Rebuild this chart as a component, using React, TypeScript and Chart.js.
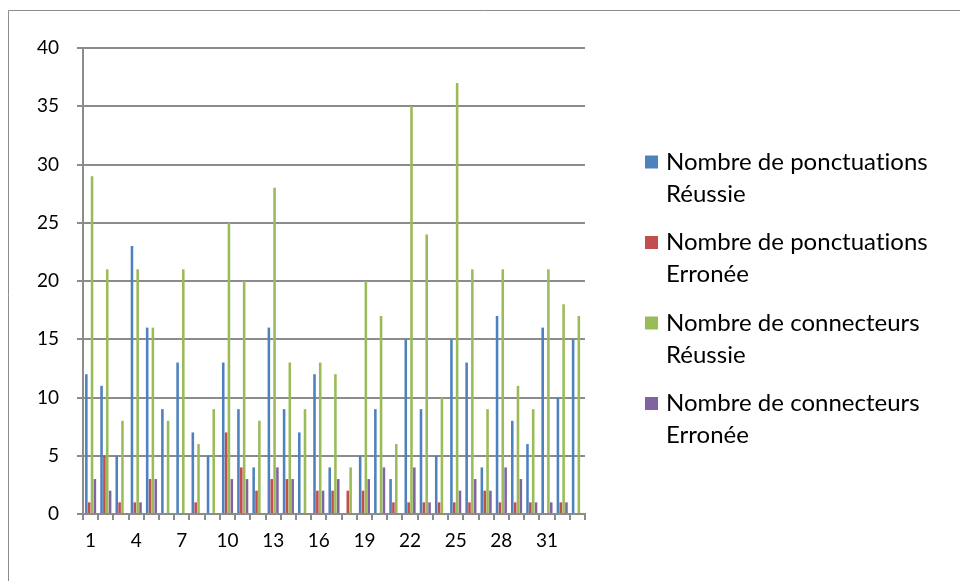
import React, { useEffect, useRef } from "react";
import { Chart, registerables } from "chart.js";

Chart.register(...registerables);

const categories = Array.from({ length: 33 }, (_, i) => String(i + 1));
const ponctReussie = [12, 11, 5, 23, 16, 9, 13, 7, 5, 13, 9, 4, 16, 9, 7, 12, 4, 0, 5, 9, 3, 15, 9, 5, 15, 13, 4, 17, 8, 6, 16, 10, 15];
const ponctErronee = [1, 5, 1, 1, 3, 0, 0, 1, 0, 7, 4, 2, 3, 3, 0, 2, 2, 2, 2, 0, 1, 1, 1, 1, 1, 1, 2, 1, 1, 1, 0, 1, 0];
const connReussie = [29, 21, 8, 21, 16, 8, 21, 6, 9, 25, 20, 8, 28, 13, 9, 13, 12, 4, 20, 17, 6, 35, 24, 10, 37, 21, 9, 21, 11, 9, 21, 18, 17];
const connErronee = [3, 2, 0, 1, 3, 0, 0, 0, 0, 3, 3, 0, 4, 3, 0, 2, 3, 0, 3, 4, 0, 4, 1, 0, 2, 3, 2, 4, 3, 1, 1, 1, 0];
const seriesLabels = [
  ["Nombre de ponctuations", "Réussie"],
  ["Nombre de ponctuations", "Erronée"],
  ["Nombre de connecteurs", "Réussie"],
  ["Nombre de connecteurs", "Erronée"],
];
const seriesColors = ["#4F81BD", "#C0504D", "#9BBB59", "#8064A2"];

const FONT = "Lato, 'Open Sans', sans-serif";

const framePlugin = {
  id: "frame",
  beforeDraw(chart: any) {
    const ctx = chart.ctx;
    ctx.save();
    ctx.fillStyle = "#ffffff";
    ctx.fillRect(0, 0, chart.width, chart.height);
    ctx.strokeStyle = "#8c8c8c";
    ctx.lineWidth = 1;
    ctx.beginPath();
    ctx.moveTo(8.5, chart.height);
    ctx.lineTo(8.5, 10.5);
    ctx.lineTo(chart.width, 10.5);
    ctx.stroke();
    ctx.restore();
  },
};

const legendPlugin = {
  id: "customLegend",
  afterDraw(chart: any) {
    const ctx = chart.ctx;
    ctx.save();
    const fontSize = 24;
    ctx.font = `${fontSize}px ${FONT}`;
    try {
      (ctx as any).letterSpacing = "0.01px";
    } catch (e) {}
    ctx.textBaseline = "middle";
    ctx.textAlign = "left";
    const x0 = 645;
    const y0 = 162;
    const itemGap = 80.5;
    const lineGap = 32;
    chart.data.datasets.forEach((ds: any, i: number) => {
      const y = y0 + i * itemGap;
      ctx.fillStyle = ds.backgroundColor;
      ctx.fillRect(x0, y - 6.5, 13, 13);
      ctx.fillStyle = "#000000";
      const lines = seriesLabels[i];
      lines.forEach((t, j) => ctx.fillText(t, x0 + 21, y + j * lineGap));
    });
    ctx.restore();
  },
};

export default function App() {
  const ref = useRef<HTMLCanvasElement>(null);
  useEffect(() => {
    if (!ref.current) return;
    const datasets = [ponctReussie, ponctErronee, connReussie, connErronee].map((d, i) => ({
      label: seriesLabels[i].join(" "),
      data: d,
      backgroundColor: seriesColors[i],
      borderWidth: 0,
      barPercentage: 0.9,
      categoryPercentage: 0.75,
    }));
    const chart = new Chart(ref.current, {
      type: "bar",
      data: { labels: categories, datasets },
      plugins: [framePlugin, legendPlugin],
      options: {
        responsive: false,
        animation: false,
        layout: { padding: { top: 48, right: 375, left: 0, bottom: 0 } },
        plugins: { legend: { display: false }, tooltip: { enabled: false } },
        scales: {
          x: {
            afterFit(scale: any) {
              scale.height = 67;
            },
            grid: { drawOnChartArea: false, drawTicks: true, tickLength: 6, color: "#8c8c8c", lineWidth: 2, offset: true },
            border: { color: "#8c8c8c", width: 2 },
            ticks: {
              autoSkip: false,
              maxRotation: 0,
              padding: 9,
              color: "#000000",
              font: { family: FONT, size: 19 },
              callback: (_v: any, i: number) => (i % 3 === 0 ? categories[i] : ""),
            },
          },
          y: {
            min: 0,
            max: 40,
            afterFit(scale: any) {
              scale.width = 83;
            },
            grid: { color: "#8c8c8c", lineWidth: 2, tickLength: 6 },
            border: { color: "#8c8c8c", width: 2 },
            ticks: { stepSize: 5, padding: 18, color: "#000000", font: { family: FONT, size: 19 } },
          },
        },
      },
    });
    return () => chart.destroy();
  }, []);
  return (
    <div style={{ position: "fixed", left: 0, top: 0, width: 960, height: 581, background: "#fff" }}>
      <canvas ref={ref} width={960} height={581} style={{ display: "block" }} />
    </div>
  );
}
